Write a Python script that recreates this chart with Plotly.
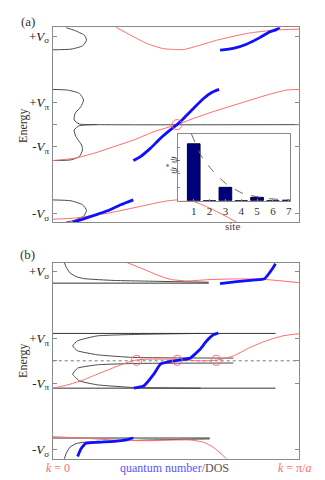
import plotly.graph_objects as go

# ---------------- data (x: quantum number / k in [0,1], E in units of V_pi) -------------
# Panel (a)
a_red_top_x = [0.255, 0.316, 0.383, 0.450, 0.504, 0.531, 0.598, 0.665, 0.733, 0.800, 0.867, 0.934, 1.0]
a_red_top_e = [4.41, 4.04, 3.66, 3.43, 3.39, 3.39, 3.59, 3.81, 3.99, 4.14, 4.23, 4.29, 4.31]
a_red_mid_x = [0.0, 0.087, 0.168, 0.249, 0.329, 0.410, 0.504, 0.571, 0.652, 0.759, 0.867, 0.948, 1.0]
a_red_mid_e = [-1.62, -1.52, -1.29, -0.99, -0.69, -0.32, 0.0, 0.28, 0.59, 0.96, 1.33, 1.56, 1.59]
a_red_bot_x = [0.0, 0.087, 0.222, 0.356, 0.450, 0.504, 0.571, 0.652, 0.746]
a_red_bot_e = [-4.27, -4.22, -4.0, -3.69, -3.47, -3.40, -3.47, -3.85, -4.40]

a_blue_top_x = [0.679, 0.733, 0.786, 0.840, 0.880, 0.907, 0.921]
a_blue_top_e = [3.36, 3.44, 3.63, 3.93, 4.19, 4.29, 4.38]
a_blue_mid_x = [0.327, 0.356, 0.396, 0.437, 0.477, 0.504, 0.531, 0.571, 0.612, 0.645, 0.675]
a_blue_mid_e = [-1.62, -1.44, -1.07, -0.62, -0.24, 0.0, 0.28, 0.73, 1.18, 1.45, 1.59]
a_blue_bot_x = [0.081, 0.114, 0.168, 0.222, 0.276, 0.327]
a_blue_bot_e = [-4.40, -4.30, -4.10, -3.89, -3.62, -3.40]

a_dos_top_x = [0.054, 0.087, 0.128, 0.137, 0.121, 0.074, 0.0]
a_dos_top_e = [4.38, 4.26, 4.04, 3.81, 3.56, 3.41, 3.38]
a_dos_mid_x = [0.0, 0.06, 0.108, 0.125, 0.114, 0.091, 0.087, 0.108, 0.181, 1.0, None,
               0.181, 0.108, 0.087, 0.094, 0.117, 0.121, 0.108, 0.074, 0.0]
a_dos_mid_e = [1.59, 1.56, 1.41, 1.11, 0.81, 0.51, 0.21, 0.03, 0.0, 0.0, None,
               0.0, -0.05, -0.24, -0.54, -0.92, -1.14, -1.44, -1.59, -1.62]
a_dos_bot_x = [0.0, 0.074, 0.121, 0.137, 0.125, 0.087, 0.054]
a_dos_bot_e = [-3.40, -3.44, -3.62, -3.87, -4.14, -4.32, -4.40]

a_circle_x = [0.504]
a_circle_e = [0.0]

# Inset (a)
sites = [1, 2, 3, 4, 5, 6, 7]
psi2 = [0.85, 0.0, 0.20, 0.0, 0.05, 0.0, 0.008]
env_x = [0.85, 1.5, 2.23, 3.06, 4.1, 5.6, 7.1]
env_y = [1.0, 0.66, 0.44, 0.25, 0.11, 0.035, 0.01]

# Panel (b)
b_red_top_x = [0.302, 0.370, 0.423, 0.477, 0.544, 0.638, 0.773, 0.867, 1.0]
b_red_top_e = [4.41, 4.11, 3.86, 3.66, 3.59, 3.65, 3.68, 3.65, 3.51]
b_red_mid_x = [0.0, 0.047, 0.114, 0.181, 0.249, 0.302, 0.336, 0.383, 0.491, 0.598, 0.665, 0.733, 0.800, 0.867, 0.934, 1.0]
b_red_mid_e = [-1.23, -1.12, -0.90, -0.60, -0.30, -0.08, 0.03, 0.07, 0.07, 0.0, 0.03, 0.22, 0.60, 0.90, 1.12, 1.22]
b_red_bot_x = [0.0, 0.114, 0.249, 0.383, 0.491, 0.558, 0.612, 0.652, 0.706]
b_red_bot_e = [-3.41, -3.47, -3.56, -3.59, -3.56, -3.56, -3.66, -3.89, -4.41]

b_blue_top_x = [0.679, 0.746, 0.813, 0.860, 0.880, 0.894, 0.904]
b_blue_top_e = [3.47, 3.56, 3.63, 3.69, 3.96, 4.18, 4.36]
b_blue_mid_x = [0.329, 0.370, 0.410, 0.437, 0.477, 0.517, 0.558, 0.598, 0.625, 0.652, 0.672]
b_blue_mid_e = [-1.23, -1.12, -0.60, -0.15, -0.03, 0.04, 0.12, 0.52, 0.90, 1.17, 1.24]
b_blue_bot_x = [0.101, 0.114, 0.134, 0.181, 0.249, 0.302, 0.327]
b_blue_bot_e = [-4.30, -3.96, -3.71, -3.66, -3.62, -3.54, -3.47]

b_dos_top_x = [0.047, 0.055, 0.07, 0.095, 0.128, 0.249, 0.383, 0.633]
b_dos_top_e = [4.41, 4.20, 3.95, 3.78, 3.69, 3.61, 3.58, 3.53]
b_edge_top_x = [0.0, 0.633]
b_edge_top_e = [3.49, 3.49]
b_dos_mid_x = [0.6, 0.356, 0.181, 0.101, 0.081, 0.101, 0.181, 0.329, 0.733, None,
               0.733, 0.329, 0.181, 0.101, 0.081, 0.108, 0.181, 0.329, 0.6]
b_dos_mid_e = [1.23, 1.19, 1.12, 0.90, 0.67, 0.45, 0.27, 0.15, 0.12, None,
               -0.10, -0.12, -0.18, -0.33, -0.60, -0.90, -1.08, -1.20, -1.23]
b_edge_pi_x = [0.0, 0.904, None, 0.0, 0.904]
b_edge_pi_e = [1.23, 1.23, None, -1.23, -1.23]
b_dos_bot_x = [0.047, 0.055, 0.07, 0.095, 0.128, 0.249, 0.383, 0.637]
b_dos_bot_e = [-4.41, -4.15, -3.88, -3.72, -3.66, -3.61, -3.56, -3.51]
b_edge_bot_x = [0.0, 0.637]
b_edge_bot_e = [-3.47, -3.47]
b_fermi_x = [0.0, 1.0]
b_fermi_e = [0.0, 0.0]
b_circle_x = [0.34, 0.505, 0.663]
b_circle_e = [0.02, 0.02, 0.02]

tick_vals = [-4, -1, 0, 1, 4]
tick_text = ["-<i>V</i><sub>σ</sub>", "-<i>V</i><sub>π</sub>", "",
             "+<i>V</i><sub>π</sub>", "+<i>V</i><sub>σ</sub>"]

RED = "#ff6b6b"
BLUE = "#1010ff"
DOS = "#4a4a4a"
FONT = "Liberation Serif"

fig = go.Figure()

def line(x, y, color, width, xa, ya, dash=None, shape="spline", smoothing=0.6):
    fig.add_trace(go.Scatter(x=x, y=y, mode="lines", xaxis=xa, yaxis=ya,
                             line=dict(color=color, width=width, dash=dash, shape=shape,
                                       smoothing=smoothing),
                             connectgaps=False, showlegend=False, hoverinfo="skip"))

# panel (a)
for x, y in [(a_dos_top_x, a_dos_top_e), (a_dos_mid_x, a_dos_mid_e), (a_dos_bot_x, a_dos_bot_e)]:
    line(x, y, DOS, 1, "x", "y")
for x, y in [(a_red_top_x, a_red_top_e), (a_red_mid_x, a_red_mid_e), (a_red_bot_x, a_red_bot_e)]:
    line(x, y, RED, 1, "x", "y")
for x, y in [(a_blue_top_x, a_blue_top_e), (a_blue_mid_x, a_blue_mid_e), (a_blue_bot_x, a_blue_bot_e)]:
    line(x, y, BLUE, 2.8, "x", "y")
fig.add_trace(go.Scatter(x=a_circle_x, y=a_circle_e, mode="markers", xaxis="x", yaxis="y",
                         marker=dict(symbol="circle-open", size=10, color=RED, line=dict(width=1)),
                         showlegend=False, hoverinfo="skip"))

# panel (b)
line(b_fermi_x, b_fermi_e, "#555555", 0.8, "x2", "y2", dash="dot", shape="linear")
for x, y in [(b_dos_top_x, b_dos_top_e), (b_dos_mid_x, b_dos_mid_e), (b_dos_bot_x, b_dos_bot_e)]:
    line(x, y, DOS, 1, "x2", "y2", smoothing=0.4)
for x, y in [(b_edge_top_x, b_edge_top_e), (b_edge_pi_x, b_edge_pi_e), (b_edge_bot_x, b_edge_bot_e)]:
    line(x, y, "#333333", 1, "x2", "y2", shape="linear")
for x, y in [(b_red_top_x, b_red_top_e), (b_red_mid_x, b_red_mid_e), (b_red_bot_x, b_red_bot_e)]:
    line(x, y, RED, 1, "x2", "y2")
for x, y in [(b_blue_top_x, b_blue_top_e), (b_blue_mid_x, b_blue_mid_e), (b_blue_bot_x, b_blue_bot_e)]:
    line(x, y, BLUE, 2.8, "x2", "y2", smoothing=0.4)
fig.add_trace(go.Scatter(x=b_circle_x, y=b_circle_e, mode="markers", xaxis="x2", yaxis="y2",
                         marker=dict(symbol="circle-open", size=10, color=RED, line=dict(width=1)),
                         showlegend=False, hoverinfo="skip"))

# inset
fig.add_trace(go.Bar(x=sites, y=psi2, xaxis="x3", yaxis="y3", width=0.8,
                     marker=dict(color="#00007a", line=dict(color="#000033", width=1)),
                     showlegend=False, hoverinfo="skip"))
line(env_x, env_y, "#666666", 1, "x3", "y3", dash="dash")

axis_common = dict(showline=True, mirror=True, linecolor="#8a8a8a", linewidth=1,
                   showgrid=False, zeroline=False)
yaxis_common = dict(axis_common, range=[-4.4, 4.4], tickvals=tick_vals, ticktext=tick_text,
                    ticks="inside", ticklen=4, tickcolor="#8a8a8a",
                    tickfont=dict(family=FONT, size=13, color="#222222"))
yaxis_common["mirror"] = "ticks"
xaxis_common = dict(axis_common, range=[0, 1], showticklabels=False, ticks="")

fig.update_layout(
    width=325, height=480, autosize=False,
    margin=dict(l=0, r=0, t=0, b=0),
    paper_bgcolor="white", plot_bgcolor="white",
    xaxis=dict(xaxis_common, domain=[0.1385, 0.9015], anchor="y"),
    yaxis=dict(yaxis_common, domain=[0.554, 0.960], anchor="x"),
    xaxis2=dict(xaxis_common, domain=[0.1385, 0.9015], anchor="y2"),
    yaxis2=dict(yaxis_common, domain=[0.061, 0.469], anchor="x2"),
    xaxis3=dict(axis_common, domain=[0.526, 0.874], anchor="y3", range=[0, 7.1],
                tickvals=sites, ticks="inside", ticklen=2, tickcolor="#8a8a8a",
                tickfont=dict(family=FONT, size=11, color="#333333")),
    yaxis3=dict(axis_common, domain=[0.5985, 0.738], anchor="x3", range=[0, 1],
                tickvals=[0.2, 0.4, 0.6, 0.8], showticklabels=False, ticks="inside",
                ticklen=2, tickcolor="#8a8a8a"),
    font=dict(family=FONT),
)

ann = [
    dict(x=20 / 325, y=1 - 13 / 480, text="(a)", font=dict(size=13, color="#333")),
    dict(x=20 / 325, y=1 - 247 / 480, text="(b)", font=dict(size=13, color="#333")),
    dict(x=15 / 325, y=1 - 118 / 480, text="Energy", textangle=-90, font=dict(size=12, color="#333")),
    dict(x=15 / 325, y=1 - 353 / 480, text="Energy", textangle=-90, font=dict(size=12, color="#333")),
    dict(x=226 / 325, y=1 - 218 / 480, text="site", font=dict(size=11, color="#444")),
    dict(x=165 / 325, y=1 - 157 / 480, text="<i>ψ</i><sup>*</sup><i>ψ</i>", textangle=-90,
         font=dict(size=11, color="#444")),
    dict(x=50 / 325, y=1 - 460 / 480, text="<i>k</i> = 0", font=dict(size=12, color=RED)),
    dict(x=168 / 325, y=1 - 460 / 480,
         text="<span style='color:#5555ff'>quantum number</span>/DOS",
         font=dict(size=12, color="#555555")),
    dict(x=289 / 325, y=1 - 460 / 480, text="<i>k</i> = π/<i>a</i>", font=dict(size=12, color=RED)),
]
for a in ann:
    a.update(xref="paper", yref="paper", showarrow=False, xanchor="center", yanchor="middle")
fig.update_layout(annotations=ann)

fig.write_html("out.html")
